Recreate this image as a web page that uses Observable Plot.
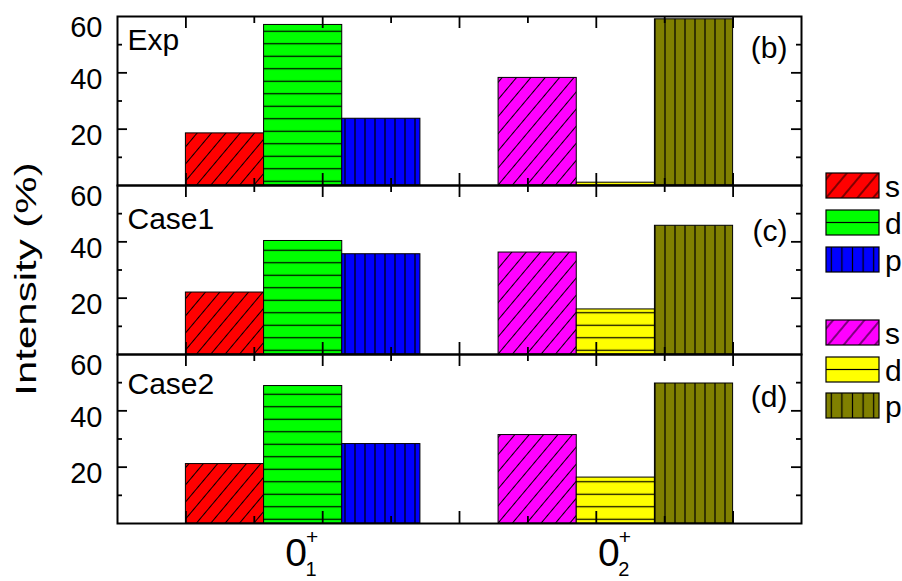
<!DOCTYPE html>
<html>
<head>
<meta charset="utf-8">
<script src="https://cdn.jsdelivr.net/npm/d3@7"></script>
<script src="https://cdn.jsdelivr.net/npm/@observablehq/plot@0.6"></script>
<style>
  html, body { margin: 0; padding: 0; background: #fff; }
  #chart { width: 902px; height: 581px; overflow: hidden; }
</style>
</head>
<body>
<div id="chart"></div>
<script>
// ---------------- data ----------------
const panels = ["Exp", "Case1", "Case2"];
const panelTags = ["(b)", "(c)", "(d)"];
const stateBase = ["0", "0"];
const stateSub = ["1", "2"];
const stateSup = ["+", "+"];
const orbitals = ["s", "d", "p"];
const state1Colors = ["#ff0000", "#00ff00", "#0000ff"];
const state2Colors = ["#ff00ff", "#ffff00", "#808000"];
const yTickLabels = [20, 40];
const yTopLabel = [60];
const yMinorTicks = [10, 30, 50];
const xMajorTicks = [1, 3, 5, 7, 9];
const xMinorTicks = [2, 4, 6, 8];
const yLabel = "Intensity (%)";

// values (%) for s, d, p
const expState1 = [18.5, 57, 23.7];
const expState2 = [38.2, 1, 59];
const case1State1 = [22, 40.3, 35.6];
const case1State2 = [36.2, 16, 45.7];
const case2State1 = [21.1, 48.8, 28.2];
const case2State2 = [31.4, 16.3, 49.7];

// ---------------- layout ----------------
const W = 902, H = 581;
const M = {top: 16, right: 101, bottom: 58, left: 117};
const frameW = W - M.left - M.right;
const facetH = (H - M.top - M.bottom) / panels.length;
const xDomain = [0, 10];
const barStart = 1, barEnd = 9;
const slotCount = 2 * orbitals.length + 1;
const slotW = (barEnd - barStart) / slotCount;
const panelLabelDy = [24, 34, 30];
const panelTagDy = [32, 46, 43];
const font = "Arial, 'Liberation Sans', sans-serif";

// ---------------- tables ----------------
const panelValues = [[expState1, expState2], [case1State1, case1State2], [case2State1, case2State2]];
const stateColors = [state1Colors, state2Colors];
const rows = [];
panels.forEach((panel, pi) =>
  panelValues[pi].forEach((vals, si) =>
    vals.forEach((v, oi) =>
      rows.push({
        panel, state: si, orbital: orbitals[oi],
        slot: si * (orbitals.length + 1) + oi,
        value: v,
        fill: `url(#pat-${si}-${oi})`
      }))));

const groupCenters = stateBase.map((_, si) => barStart + (si * (orbitals.length + 1) + orbitals.length / 2) * slotW);
const stateLabelRows = stateBase.map((b, si) => ({
  panel: panels[panels.length - 1], x: groupCenters[si], base: b, sub: stateSub[si], sup: stateSup[si]
}));

const tickStyle = {stroke: "black", strokeWidth: 1.8};

const marks = [
  Plot.rect(rows, {
    x1: d => barStart + d.slot * slotW,
    x2: d => barStart + (d.slot + 1) * slotW,
    y1: 0, y2: "value", fy: "panel",
    fill: "fill", stroke: "black", strokeWidth: 1
  }),
  // inward y ticks (left and right)
  Plot.ruleY(yTickLabels, {insetRight: frameW - 10, ...tickStyle}),
  Plot.ruleY(yMinorTicks, {insetRight: frameW - 5, ...tickStyle}),
  Plot.ruleY(yTickLabels, {insetLeft: frameW - 10, ...tickStyle}),
  Plot.ruleY(yMinorTicks, {insetLeft: frameW - 5, ...tickStyle}),
  // inward x ticks (top and bottom)
  Plot.ruleX(xMajorTicks, {insetBottom: facetH - 12, ...tickStyle}),
  Plot.ruleX(xMinorTicks, {insetBottom: facetH - 7, ...tickStyle}),
  Plot.ruleX(xMajorTicks, {insetTop: facetH - 12, ...tickStyle}),
  Plot.ruleX(xMinorTicks, {insetTop: facetH - 7, ...tickStyle}),
  Plot.frame({stroke: "black", strokeWidth: 2}),
  Plot.axisY({ticks: yTickLabels, tickSize: 0, tickPadding: 15, fontSize: 29, dy: 7, label: null}),
  Plot.axisY({ticks: yTopLabel, tickSize: 0, tickPadding: 15, fontSize: 29, dy: 11, label: null}),
  ...panels.map((p, i) => Plot.text([{panel: p, t: p}], {
    fy: "panel", text: "t", frameAnchor: "top-left", textAnchor: "start",
    lineAnchor: "middle", dx: 10, dy: panelLabelDy[i], fontSize: 30
  })),
  ...panels.map((p, i) => Plot.text([{panel: p, t: panelTags[i]}], {
    fy: "panel", text: "t", frameAnchor: "top-right", textAnchor: "end",
    lineAnchor: "middle", dx: -14, dy: panelTagDy[i], fontSize: 30
  })),
  Plot.text(stateLabelRows, {fy: "panel", x: "x", text: "base", frameAnchor: "bottom", lineAnchor: "middle", dx: -7, dy: 30, fontSize: 39}),
  Plot.text(stateLabelRows, {fy: "panel", x: "x", text: "sup", frameAnchor: "bottom", lineAnchor: "middle", dx: 9, dy: 14, fontSize: 21}),
  Plot.text(stateLabelRows, {fy: "panel", x: "x", text: "sub", frameAnchor: "bottom", lineAnchor: "middle", dx: 8, dy: 46, fontSize: 20}),
  Plot.text([{panel: panels[1], t: yLabel}], {fy: "panel", text: "t", frameAnchor: "left", textAnchor: "middle", rotate: -90, lineAnchor: "middle", dx: -91, dy: 9, fontSize: 30})
];

const svg = Plot.plot({
  width: W, height: H,
  marginTop: M.top, marginRight: M.right, marginBottom: M.bottom, marginLeft: M.left,
  x: {domain: xDomain, axis: null},
  y: {domain: [0, 60], label: null},
  fy: {domain: panels, padding: 0, axis: null, label: null},
  color: {type: "identity"},
  style: {fontFamily: font, fontSize: "28px", color: "black", background: "white"},
  marks
});

// ---------------- patterns ----------------
const root = d3.select(svg);
const defs = root.insert("defs", ":first-child");
function addPattern(id, color, kind, opts = {}) {
  const p = defs.append("pattern").attr("id", id).attr("patternUnits", "userSpaceOnUse");
  if (opts.x != null) p.attr("x", opts.x);
  if (opts.y != null) p.attr("y", opts.y);
  if (kind === "s") {
    const s = opts.size || 11;
    p.attr("width", s).attr("height", s).attr("patternTransform", "rotate(40)");
    p.append("rect").attr("x", -1).attr("y", -1).attr("width", s + 2).attr("height", s + 2).attr("fill", color);
    p.append("line").attr("x1", s / 2).attr("x2", s / 2).attr("y1", -1).attr("y2", s + 1).attr("stroke", "black").attr("stroke-width", 1);
  } else if (kind === "d") {
    const s = opts.size || 12.5;
    p.attr("width", 10).attr("height", s);
    p.append("rect").attr("width", 10).attr("height", s).attr("fill", color);
    p.append("line").attr("x1", -1).attr("x2", 11).attr("y1", s / 2).attr("y2", s / 2).attr("stroke", "black").attr("stroke-width", 1.2);
  } else {
    const s = opts.size || 10;
    p.attr("width", s).attr("height", 10);
    p.append("rect").attr("width", s).attr("height", 10).attr("fill", color);
    p.append("line").attr("x1", s / 2).attr("x2", s / 2).attr("y1", -1).attr("y2", 11).attr("stroke", "black").attr("stroke-width", 1.2);
  }
}
stateColors.forEach((cols, si) => cols.forEach((c, oi) => addPattern(`pat-${si}-${oi}`, c, orbitals[oi])));

// stretch the y title along its length like the original
svg.querySelectorAll("text").forEach(el => {
  if (el.textContent.trim() === yLabel) {
    const tr = el.getAttribute("transform");
    if (tr) el.setAttribute("transform", tr + " scale(1.4,1)");
  }
});

// ---------------- legend ----------------
const legendX = 826, swW = 53, swH = 25;
const legendTops = [[173, 210, 247], [320, 357, 393]];
const legendSizes = {s: 12, d: swH, p: 10.6};
const lg = root.append("g").attr("font-family", font).attr("font-size", 30).attr("text-anchor", "start");
stateColors.forEach((cols, si) => cols.forEach((c, oi) => {
  const top = legendTops[si][oi];
  const id = `leg-${si}-${oi}`;
  addPattern(id, c, orbitals[oi], {x: legendX, y: top, size: legendSizes[orbitals[oi]]});
  lg.append("rect").attr("x", legendX).attr("y", top).attr("width", swW).attr("height", swH)
    .attr("fill", `url(#${id})`).attr("stroke", "black").attr("stroke-width", 1.2);
  lg.append("text").attr("x", legendX + swW + 6).attr("y", top + swH - 1).attr("fill", "black").text(orbitals[oi]);
}));

document.getElementById("chart").appendChild(svg);
</script>
</body>
</html>
